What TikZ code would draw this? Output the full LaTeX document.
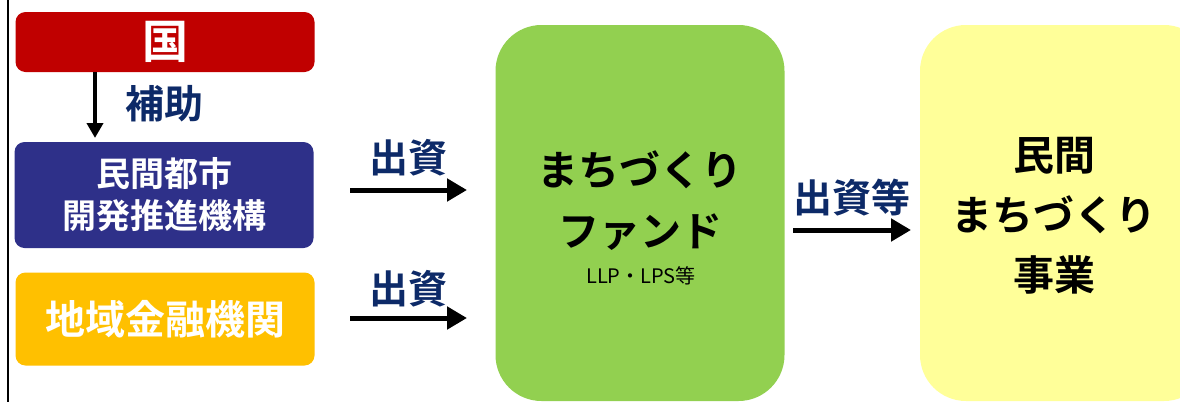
\documentclass[tikz,border=0pt]{standalone}
\usepackage{fontspec}
\setmainfont{Noto Sans CJK JP}[BoldFont={Noto Sans CJK JP Bold}]
\usetikzlibrary{arrows.meta}
\definecolor{kunired}{HTML}{C00000}
\definecolor{kikoblue}{HTML}{2E3089}
\definecolor{ginkoorange}{HTML}{FFC000}
\definecolor{fundgreen}{HTML}{92D050}
\definecolor{jigyoyellow}{HTML}{FFFF99}
\definecolor{labelnavy}{HTML}{0D2A68}
\begin{document}
\begin{tikzpicture}[x=1pt, y=-1pt,
    smallbox/.style ={rectangle, rounded corners=10pt, minimum width=299pt, inner sep=0pt,
                      text=white, font=\bfseries\fontsize{38}{44}\selectfont, align=center},
    bigbox/.style ={rectangle, rounded corners=46pt, inner sep=0pt},
    flowlabel/.style ={text=labelnavy, font=\bfseries\fontsize{39}{40}\selectfont, inner sep=0pt},
    flowarrow/.style ={line width=5pt, -{Triangle[length=20pt,width=22pt]}}]
   \useasboundingbox (0,0) rectangle (1180,402);
   \clip (0,0) rectangle (1180,402);
   \fill[white] (0,0) rectangle (1180,402);

   % left frame line
   \draw[line width=2pt] (8,0) -- (8,402);

   \node[smallbox, fill=kunired, minimum height=60pt, font=\bfseries\fontsize{46}{48}\selectfont] (kuni) at (165,42) {国};
   \node[smallbox, fill=kikoblue, minimum height=106pt, font=\bfseries\fontsize{34}{42}\selectfont] (kiko) at (164,195) {民間都市\\開発推進機構};
   \node[smallbox, fill=ginkoorange, minimum height=93pt, font=\bfseries\fontsize{40}{44}\selectfont] (ginko) at (165,319) {地域金融機関};

   \node[bigbox, fill=fundgreen, minimum width=289pt, minimum height=376pt] (fund) at (640,213) {};
   \node[font=\bfseries\fontsize{41}{48}\selectfont] (fundA) at (640,170) {まちづくり};
   \node[font=\bfseries\fontsize{41}{48}\selectfont] (fundB) at (640,232) {ファンド};
   \node[font=\fontsize{20}{22}\selectfont] (fundC) at (641,276) {LLP・LPS等};

   \node[bigbox, fill=jigyoyellow, minimum width=290pt, minimum height=376pt] (jigyo) at (1065,213) {};
   \node[font=\bfseries\fontsize{41}{60}\selectfont, align=center] (jigyoT) at (1054,216) {民間\\まちづくり\\事業};

   % arrows
   \coordinate (hojoS) at (95,72);
   \coordinate (hojoE) at (95,138);
   \draw[line width=4pt, -{Triangle[length=15pt,width=16pt]}] (hojoS) -- (hojoE);
   \node[flowlabel, anchor=west] (hojo) at (125,104) {補助};

   \coordinate (shiA) at (350,190);
   \coordinate (shiAe) at (467,190);
   \draw[flowarrow] (shiA) -- (shiAe);
   \node[flowlabel] (shiAl) at (408,158) {出資};

   \coordinate (shiB) at (350,318);
   \coordinate (shiBe) at (467,318);
   \draw[flowarrow] (shiB) -- (shiBe);
   \node[flowlabel] (shiBl) at (408,289) {出資};

   \coordinate (shiC) at (793,230);
   \coordinate (shiCe) at (911,230);
   \draw[flowarrow] (shiC) -- (shiCe);
   \node[flowlabel] (shiCl) at (852,198) {出資等};

 \end{tikzpicture}
\end{document}
